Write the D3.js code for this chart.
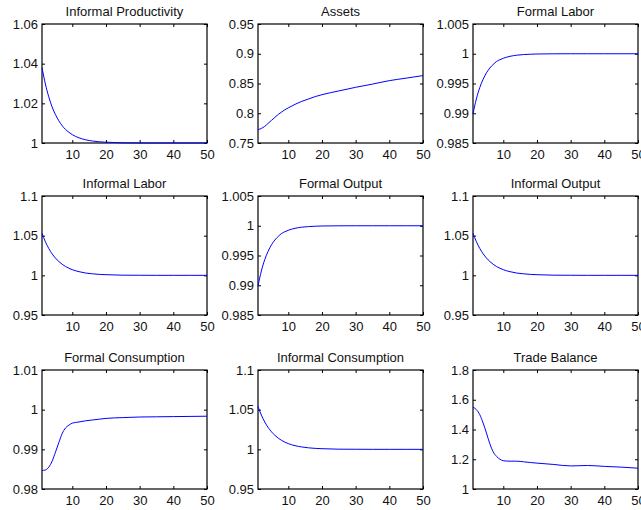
<!DOCTYPE html>
<html>
<head>
<meta charset="utf-8">
<script src="https://cdn.jsdelivr.net/npm/d3@7"></script>
<style>
  body { margin: 0; background: #fff; }
  text { font-family: "Liberation Sans", Arial, Helvetica, sans-serif; }
</style>
</head>
<body>
<div id="chart"></div>
<script>
var periods = [1, 2, 3, 4, 5, 6, 7, 8, 9, 10, 12, 14, 16, 18, 20, 25, 30, 35, 40, 45, 50];

var informalProductivity = [1.0380, 1.0298, 1.0233, 1.0182, 1.0143, 1.0112, 1.0087, 1.0068, 1.0054, 1.0042,
  1.0026, 1.0016, 1.0010, 1.0006, 1.0004, 1.0001, 1.0000, 1.0000, 1.0000, 1.0000, 1.0000];
var assets = [0.7724, 0.7745, 0.7780, 0.7830, 0.7880, 0.7930, 0.7980, 0.8020, 0.8060, 0.8090,
  0.8150, 0.8200, 0.8240, 0.8280, 0.8312, 0.8375, 0.8436, 0.8490, 0.8548, 0.8590, 0.8633];
var formalLabor = [0.9899, 0.9924, 0.9943, 0.9957, 0.9968, 0.9976, 0.9982, 0.9987, 0.9990, 0.99924,
  0.99957, 0.99976, 0.99986, 0.99992, 0.99996, 0.99999, 1.0, 1.0, 1.0, 1.0, 1.0];
var informalLabor = [1.0530, 1.0424, 1.0339, 1.0271, 1.0217, 1.0174, 1.0139, 1.0111, 1.0089, 1.0071,
  1.0046, 1.0029, 1.0019, 1.0012, 1.0008, 1.0002, 1.0001, 1.0, 1.0, 1.0, 1.0];
var formalOutput = [0.9899, 0.9924, 0.9943, 0.9957, 0.9968, 0.9976, 0.9982, 0.9987, 0.9990, 0.99924,
  0.99957, 0.99976, 0.99986, 0.99992, 0.99996, 0.99999, 1.0, 1.0, 1.0, 1.0, 1.0];
var informalOutput = [1.0530, 1.0425, 1.0340, 1.0272, 1.0218, 1.0174, 1.0139, 1.0111, 1.0089, 1.0071,
  1.0046, 1.0029, 1.0019, 1.0012, 1.0008, 1.0002, 1.0001, 1.0, 1.0, 1.0, 1.0];
var formalConsumption = [0.98466, 0.9848, 0.9855, 0.9870, 0.9893, 0.9917, 0.9940, 0.9954, 0.9961, 0.99660,
  0.9969, 0.9972, 0.9974, 0.9976, 0.9978, 0.9980, 0.99815, 0.9982, 0.99825, 0.9983, 0.99835];
var informalConsumption = [1.0540, 1.0432, 1.0345, 1.0276, 1.0221, 1.0177, 1.0141, 1.0113, 1.0090, 1.0072,
  1.0046, 1.0030, 1.0019, 1.0012, 1.0008, 1.0002, 1.0001, 1.0, 1.0, 1.0, 1.0];
var tradeBalance = [1.550, 1.534, 1.500, 1.444, 1.376, 1.304, 1.250, 1.219, 1.200, 1.190,
  1.187, 1.187, 1.183, 1.178, 1.174, 1.165, 1.155, 1.158, 1.152, 1.147, 1.140];

var titles = ["Informal Productivity", "Assets", "Formal Labor",
              "Informal Labor", "Formal Output", "Informal Output",
              "Formal Consumption", "Informal Consumption", "Trade Balance"];
var seriesList = [informalProductivity, assets, formalLabor,
                  informalLabor, formalOutput, informalOutput,
                  formalConsumption, informalConsumption, tradeBalance];
var yDomains = [[1, 1.06], [0.75, 0.95], [0.985, 1.005],
                [0.95, 1.1], [0.985, 1.005], [0.95, 1.1],
                [0.98, 1.01], [0.95, 1.1], [1, 1.8]];
var yTicks = [[1, 1.02, 1.04, 1.06], [0.75, 0.8, 0.85, 0.9, 0.95], [0.985, 0.99, 0.995, 1, 1.005],
              [0.95, 1, 1.05, 1.1], [0.985, 0.99, 0.995, 1, 1.005], [0.95, 1, 1.05, 1.1],
              [0.98, 0.99, 1, 1.01], [0.95, 1, 1.05, 1.1], [1, 1.2, 1.4, 1.6, 1.8]];
var xDomain = [1, 50];
var xTicks = [10, 20, 30, 40, 50];

// layout of the 3x3 grid
var colLeft = [42, 258, 473],
    rowTop = [24, 196, 370],
    panelW = 165,
    panelH = 119,
    tickLen = 3;

var svg = d3.select("#chart")
  .append("svg")
    .attr("width", 641)
    .attr("height", 510);

var fmt = d3.format("~g");

seriesList.forEach(function(series, i) {
  var col = i % 3, row = Math.floor(i / 3);

  var g = svg.append("g")
    .attr("transform", "translate(" + colLeft[col] + "," + rowTop[row] + ")");

  var x = d3.scaleLinear().domain(xDomain).range([0, panelW]);
  var y = d3.scaleLinear().domain(yDomains[i]).range([panelH, 0]);

  // bottom axis, ticks pointing inward
  var xb = g.append("g")
    .attr("transform", "translate(0," + panelH + ")")
    .call(d3.axisBottom(x).tickValues(xTicks).tickSizeInner(-tickLen).tickSizeOuter(0).tickPadding(7).tickFormat(fmt));
  // top axis, ticks only
  var xt = g.append("g")
    .call(d3.axisTop(x).tickValues(xTicks).tickSizeInner(-tickLen).tickSizeOuter(0).tickFormat(""));
  // left axis
  var yl = g.append("g")
    .call(d3.axisLeft(y).tickValues(yTicks[i]).tickSizeInner(-tickLen).tickSizeOuter(0).tickPadding(4).tickFormat(fmt));
  // right axis, ticks only
  var yr = g.append("g")
    .attr("transform", "translate(" + panelW + ",0)")
    .call(d3.axisRight(y).tickValues(yTicks[i]).tickSizeInner(-tickLen).tickSizeOuter(0).tickFormat(""));

  [xb, xt, yl, yr].forEach(function(a) {
    a.select(".domain").remove();
    a.selectAll("line").style("stroke", "#000").style("stroke-width", 1);
    a.selectAll("text")
      .style("font-size", "13px")
      .style("fill", "#111")
      .style("font-family", "'Liberation Sans', Arial, sans-serif");
  });

  // box
  g.append("rect")
    .attr("x", 0).attr("y", 0)
    .attr("width", panelW).attr("height", panelH)
    .style("fill", "none")
    .style("stroke", "#000")
    .style("stroke-width", 1.2);

  var line = d3.line()
    .x(function(d, k) { return x(periods[k]); })
    .y(function(d) { return y(d); })
    .curve(d3.curveMonotoneX);

  g.append("path")
    .datum(series)
    .attr("d", line)
    .style("fill", "none")
    .style("stroke", "#0000ff")
    .style("stroke-width", 1);

  // title
  g.append("text")
    .attr("x", panelW / 2)
    .attr("y", -8)
    .attr("text-anchor", "middle")
    .style("font-size", "13px")
    .style("fill", "#111")
    .text(titles[i]);
});
</script>
</body>
</html>
